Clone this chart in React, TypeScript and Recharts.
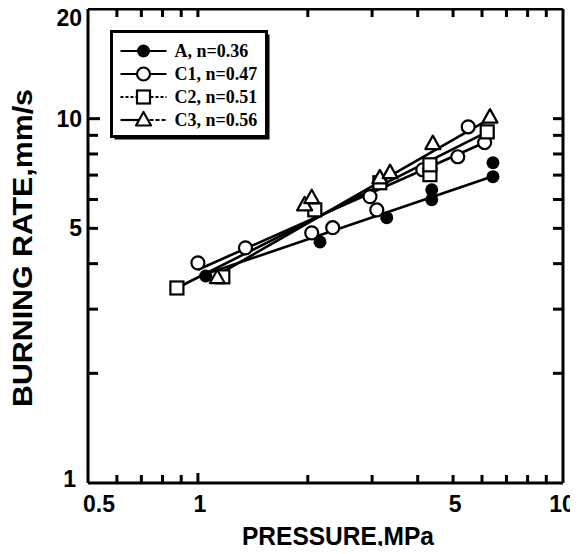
import { Scatter, ScatterChart, XAxis, YAxis } from 'recharts'

type Pt = { p: number; r: number }

const pressureTicks = [0.5, 0.6, 0.7, 0.8, 0.9, 1, 2, 3, 4, 5, 6, 7, 8, 9, 10]
const pressureLabels = [0.5, 1, 5, 10]
const rateTicks = [1, 2, 3, 4, 5, 6, 7, 8, 9, 10, 20]
const rateLabels = [1, 5, 10, 20]

// measured points (pressure MPa, burning rate mm/s)
const pointsA: Pt[] = [
  { p: 1.05, r: 3.7 }, { p: 2.16, r: 4.59 }, { p: 3.29, r: 5.35 },
  { p: 4.37, r: 5.99 }, { p: 4.37, r: 6.38 }, { p: 6.43, r: 6.93 }, { p: 6.43, r: 7.57 },
]
const pointsC1: Pt[] = [
  { p: 1.0, r: 4.02 }, { p: 1.35, r: 4.42 }, { p: 2.05, r: 4.86 }, { p: 2.34, r: 5.02 },
  { p: 2.96, r: 6.11 }, { p: 3.09, r: 5.62 }, { p: 4.13, r: 7.24 }, { p: 5.15, r: 7.86 },
  { p: 5.5, r: 9.5 }, { p: 6.1, r: 8.6 },
]
const pointsC2: Pt[] = [
  { p: 0.876, r: 3.43 }, { p: 1.17, r: 3.68 }, { p: 2.09, r: 5.62 }, { p: 3.15, r: 6.67 },
  { p: 4.32, r: 7.02 }, { p: 4.32, r: 7.47 }, { p: 6.2, r: 9.2 },
]
const pointsC3: Pt[] = [
  { p: 1.13, r: 3.66 }, { p: 1.96, r: 5.8 }, { p: 2.05, r: 6.07 }, { p: 3.15, r: 6.88 },
  { p: 3.36, r: 7.11 }, { p: 4.4, r: 8.54 }, { p: 6.31, r: 10.1 },
]

// fitted lines, end points
const fitA: Pt[] = [{ p: 1.03, r: 3.72 }, { p: 6.43, r: 6.95 }]
const fitC1: Pt[] = [{ p: 1.0, r: 3.85 }, { p: 6.1, r: 8.6 }]
const fitC2: Pt[] = [{ p: 0.876, r: 3.43 }, { p: 6.2, r: 9.2 }]
const fitC3: Pt[] = [{ p: 1.13, r: 3.72 }, { p: 6.31, r: 10.0 }]

const sansBold = { fontFamily: '"Liberation Sans", Arial, sans-serif', fontWeight: 700 }
const axisStroke = { stroke: '#000', strokeWidth: 3 }

// plot box that follows from the chart margins and axis sizes below
const PLOT = { left: 88, right: 563, top: 9, bottom: 483 }

const FilledDot = (p: any) => <circle cx={p.cx} cy={p.cy} r={6.5} fill="#000" />
const OpenDot = (p: any) => <circle cx={p.cx} cy={p.cy} r={6.5} fill="#fff" stroke="#000" strokeWidth={2.2} />
const OpenSquare = (p: any) => (
  <rect x={p.cx - 6.5} y={p.cy - 6.5} width={13} height={13} fill="#fff" stroke="#000" strokeWidth={2.2} />
)
const OpenTriangle = (p: any) => (
  <polygon
    points={`${p.cx},${p.cy - 8} ${p.cx - 7.5},${p.cy + 5.5} ${p.cx + 7.5},${p.cy + 5.5}`}
    fill="#fff" stroke="#000" strokeWidth={2.2} strokeLinejoin="round"
  />
)
const NoDot = () => <g />

function BottomLabel(props: any) {
  const { x, y, payload } = props
  const v = payload.value
  if (!pressureLabels.includes(v)) return <g />
  const dx = v === 0.5 ? 11 : v === 10 ? -1 : 2
  return <text x={x + dx} y={y + 29} textAnchor="middle" fontSize={23} fill="#000" {...sansBold}>{v}</text>
}

function LeftLabel(props: any) {
  const { x, y, payload } = props
  const v = payload.value
  if (!rateLabels.includes(v)) return <g />
  const dy = v === 20 ? 9 : v === 1 ? -4 : 0
  return (
    <text x={x - (v === 1 ? 12 : 6)} y={y + dy + 8} textAnchor="end" fontSize={23} fill="#000" {...sansBold}>{v}</text>
  )
}

const NoTick = () => <g />

// inward tick marks on all four sides (same log mapping as the axes)
const lx = (v: number) =>
  PLOT.left + ((Math.log10(v) - Math.log10(0.5)) / (Math.log10(10) - Math.log10(0.5))) * (PLOT.right - PLOT.left)
const ly = (v: number) =>
  PLOT.bottom - (Math.log10(v) / Math.log10(20)) * (PLOT.bottom - PLOT.top)

const TickMarks = () => (
  <g fill="#000">
    {pressureTicks.filter((v) => v !== 0.5 && v !== 10).map((v) => (
      <g key={`x${v}`}>
        <rect x={lx(v) - 1.5} y={PLOT.bottom - (v === 1 ? 10 : 8)} width={3} height={v === 1 ? 10 : 8} />
        <rect x={lx(v) - 1.5} y={PLOT.top} width={3} height={8} />
      </g>
    ))}
    {rateTicks.filter((v) => v !== 1 && v !== 20).map((v) => (
      <g key={`y${v}`}>
        <rect x={PLOT.left} y={ly(v) - 1.5} width={v === 10 ? 12 : 10} height={3} />
        <rect x={PLOT.right - 10} y={ly(v) - 1.5} width={10} height={3} />
      </g>
    ))}
  </g>
)

const Titles = () => (
  <g>
    <text x={338} y={545} textAnchor="middle" fontSize={25} fill="#000"
      textLength={192} lengthAdjust="spacingAndGlyphs" {...sansBold}>
      PRESSURE,MPa
    </text>
    <text transform="translate(22, 248) rotate(-90)" dy="0.36em"
      textAnchor="middle" fontSize={27} fill="#000" textLength={318} lengthAdjust="spacingAndGlyphs" {...sansBold}>
      BURNING RATE,mm/s
    </text>
  </g>
)

const legendRows = [
  { name: 'A, n=0.36', Shape: FilledDot, dash: undefined as string | undefined },
  { name: 'C1, n=0.47', Shape: OpenDot, dash: undefined },
  { name: 'C2, n=0.51', Shape: OpenSquare, dash: '3 2' },
  { name: 'C3, n=0.56', Shape: OpenTriangle, dash: 'half' },
]

const LegendBox = () => (
  <g transform="translate(111.5, 31.5)">
    <rect x={3} y={3} width={155} height={105} fill="#000" />
    <rect x={0} y={0} width={155} height={105} fill="#fff" stroke="#000" strokeWidth={3} />
    {legendRows.map((row, i) => {
      const cy = 19.5 + i * 23
      return (
        <g key={row.name}>
          {row.dash === 'half' ? (
            <>
              <line x1={9} y1={cy} x2={32} y2={cy} stroke="#000" strokeWidth={2.2} />
              <line x1={32} y1={cy} x2={55} y2={cy} stroke="#000" strokeWidth={2} strokeDasharray="4 2" />
            </>
          ) : (
            <line x1={9} y1={cy} x2={55} y2={cy} stroke="#000" strokeWidth={2.2} strokeDasharray={row.dash} />
          )}
          <row.Shape cx={32} cy={cy} />
          <text x={63} y={cy + 6} fontSize={18} fill="#000"
            style={{ fontFamily: '"Liberation Serif", "Times New Roman", serif', fontWeight: 700 }}>
            {row.name}
          </text>
        </g>
      )
    })}
  </g>
)

export default function App() {
  const lineStyle = { stroke: '#000', strokeWidth: 2.6 }
  return (
    <div style={{ margin: -8, width: 578, height: 554, background: '#fff' }}>
      <ScatterChart width={578} height={554} margin={{ top: 8, right: 14, bottom: 0, left: 8 }}>
        <XAxis xAxisId="b" dataKey="p" type="number" scale="log" domain={[0.5, 10]} ticks={pressureTicks}
          interval={0} height={71} tickSize={0} tickMargin={0} tickLine={false} tick={<BottomLabel />}
          axisLine={axisStroke} allowDataOverflow />
        <XAxis xAxisId="t" orientation="top" dataKey="p" type="number" scale="log" domain={[0.5, 10]}
          ticks={pressureTicks} interval={0} height={1} tickSize={0} tickMargin={0} tickLine={false}
          tick={<NoTick />} axisLine={axisStroke} allowDataOverflow />
        <YAxis yAxisId="l" dataKey="r" type="number" scale="log" domain={[1, 20]} ticks={rateTicks}
          interval={0} width={80} tickSize={0} tickMargin={0} tickLine={false} tick={<LeftLabel />}
          axisLine={axisStroke} allowDataOverflow />
        <YAxis yAxisId="r" orientation="right" dataKey="r" type="number" scale="log" domain={[1, 20]}
          ticks={rateTicks} interval={0} width={1} tickSize={0} tickMargin={0} tickLine={false}
          tick={<NoTick />} axisLine={axisStroke} allowDataOverflow />

        <Scatter xAxisId="b" yAxisId="l" data={fitA} line={lineStyle} shape={NoDot} isAnimationActive={false} />
        <Scatter xAxisId="b" yAxisId="l" data={fitC1} line={lineStyle} shape={NoDot} isAnimationActive={false} />
        <Scatter xAxisId="b" yAxisId="l" data={fitC2} line={lineStyle} shape={NoDot} isAnimationActive={false} />
        <Scatter xAxisId="b" yAxisId="l" data={fitC3} line={lineStyle} shape={NoDot} isAnimationActive={false} />

        <Scatter xAxisId="b" yAxisId="l" data={pointsA} shape={FilledDot} isAnimationActive={false} />
        <Scatter xAxisId="b" yAxisId="l" data={pointsC1} shape={OpenDot} isAnimationActive={false} />
        <Scatter xAxisId="b" yAxisId="l" data={pointsC2} shape={OpenSquare} isAnimationActive={false} />
        <Scatter xAxisId="b" yAxisId="l" data={pointsC3} shape={OpenTriangle} isAnimationActive={false} />

        <TickMarks />
        <Titles />
        <LegendBox />
      </ScatterChart>
    </div>
  )
}
